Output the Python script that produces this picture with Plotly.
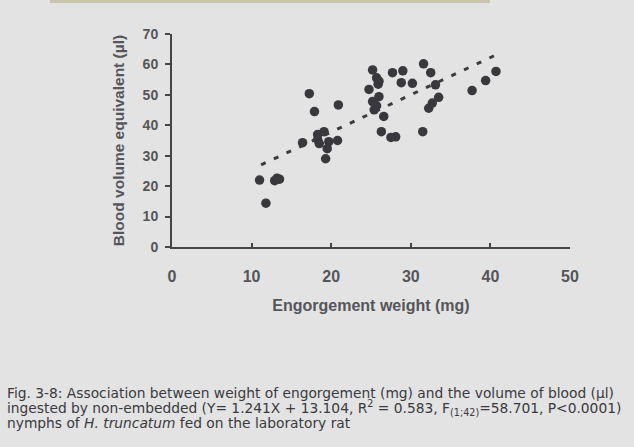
import plotly.graph_objects as go

# Data
weight_mg = [11.0, 11.8, 12.9, 13.2, 13.5, 16.4, 17.25, 17.9, 18.3, 18.3, 18.5, 19.1,
             19.7, 19.5, 19.3, 20.8, 20.9, 25.2, 24.75, 25.2, 25.4, 25.7, 26.0, 25.7,
             26.0, 25.9, 26.6, 26.3, 27.5, 28.1, 27.7, 29.0, 28.8, 30.2, 31.6, 32.5,
             33.1, 33.5, 32.7, 32.25, 31.5, 37.7, 39.4, 40.7]
blood_ul = [22.0, 14.4, 21.8, 22.6, 22.3, 34.3, 50.4, 44.5, 37.0, 35.3, 34.0, 37.9,
            34.6, 32.3, 29.0, 35.0, 46.7, 58.2, 51.8, 47.8, 45.1, 46.4, 49.4, 55.6,
            54.5, 53.5, 42.9, 37.9, 36.0, 36.2, 57.3, 57.9, 54.0, 53.8, 60.2, 57.3,
            53.3, 49.2, 47.3, 45.6, 37.9, 51.4, 54.7, 57.7]
trend_x = [11.2, 40.6]
trend_y = [27.0, 63.0]

x_ticks = [0, 10, 20, 30, 40, 50]
y_ticks = [0, 10, 20, 30, 40, 50, 60, 70]

axis_color = "#454548"
label_color = "#55555a"

fig = go.Figure()
fig.add_trace(go.Scatter(x=trend_x, y=trend_y, mode="lines",
                         line=dict(color="#3c3c40", width=3, dash="5px,9px"),
                         hoverinfo="skip", showlegend=False))
fig.add_trace(go.Scatter(x=weight_mg, y=blood_ul, mode="markers",
                         marker=dict(size=9.5, color="#38383d", line=dict(width=0)),
                         showlegend=False))

bold = dict(family="Liberation Sans, Arial, sans-serif", weight="bold")
narrow = dict(family="Liberation Sans Narrow, Arial Narrow, Liberation Sans, sans-serif",
              weight="bold")

fig.update_layout(
    width=634, height=447,
    margin=dict(l=172, r=64, t=34, b=200),
    paper_bgcolor="#e3e3e3", plot_bgcolor="rgba(0,0,0,0)",
    xaxis=dict(range=[0, 50], tickvals=x_ticks, showgrid=False, zeroline=False,
               showline=True, linecolor=axis_color, linewidth=2,
               ticks="inside", ticklen=4, tickwidth=2, tickcolor=axis_color,
               ticklabelstandoff=14,
               tickfont=dict(size=16, color=label_color, **bold),
               title=dict(text="Engorgement weight (mg)", standoff=16,
                          font=dict(size=16, color=label_color, **bold))),
    yaxis=dict(range=[0, 70], tickvals=y_ticks, showgrid=False, zeroline=False,
               showline=True, linecolor=axis_color, linewidth=2,
               ticks="outside", ticklen=5, tickwidth=2, tickcolor=axis_color,
               ticklabelstandoff=4,
               tickfont=dict(size=14, color=label_color, **narrow),
               title=dict(text="Blood volume equivalent (\u00b5l)", standoff=14,
                          font=dict(size=15.5, color=label_color, **bold))),
)

caption_lines = [
    "Fig. 3-8: Association between weight of engorgement (mg) and the volume of blood (\u00b5l)",
    "ingested by non-embedded (Y= 1.241X + 13.104, R<sup>2</sup> = 0.583, F<sub>(1;42)</sub>=58.701, P&lt;0.0001)",
    "nymphs of <i>H. truncatum</i> fed on the laboratory rat",
]
caption_y = [393, 408, 423]
for txt, yy in zip(caption_lines, caption_y):
    fig.add_annotation(text=txt, xref="paper", yref="paper",
                       x=(5 - 172) / (634 - 172 - 64), xanchor="left",
                       y=(447 - 200 - yy) / (447 - 34 - 200), yanchor="middle",
                       showarrow=False,
                       font=dict(family="DejaVu Sans, sans-serif",
                                 size=13.8, color="#3a3a3e"))

# thin beige strip at the top of the photo
fig.add_shape(type="rect", xref="paper", yref="paper",
              x0=(50 - 172) / 398, x1=(490 - 172) / 398,
              y0=(447 - 200 - 0) / 213, y1=(447 - 200 - 3) / 213,
              fillcolor="#c9c5aa", line=dict(width=0), layer="below")

fig.write_html("out.html")
